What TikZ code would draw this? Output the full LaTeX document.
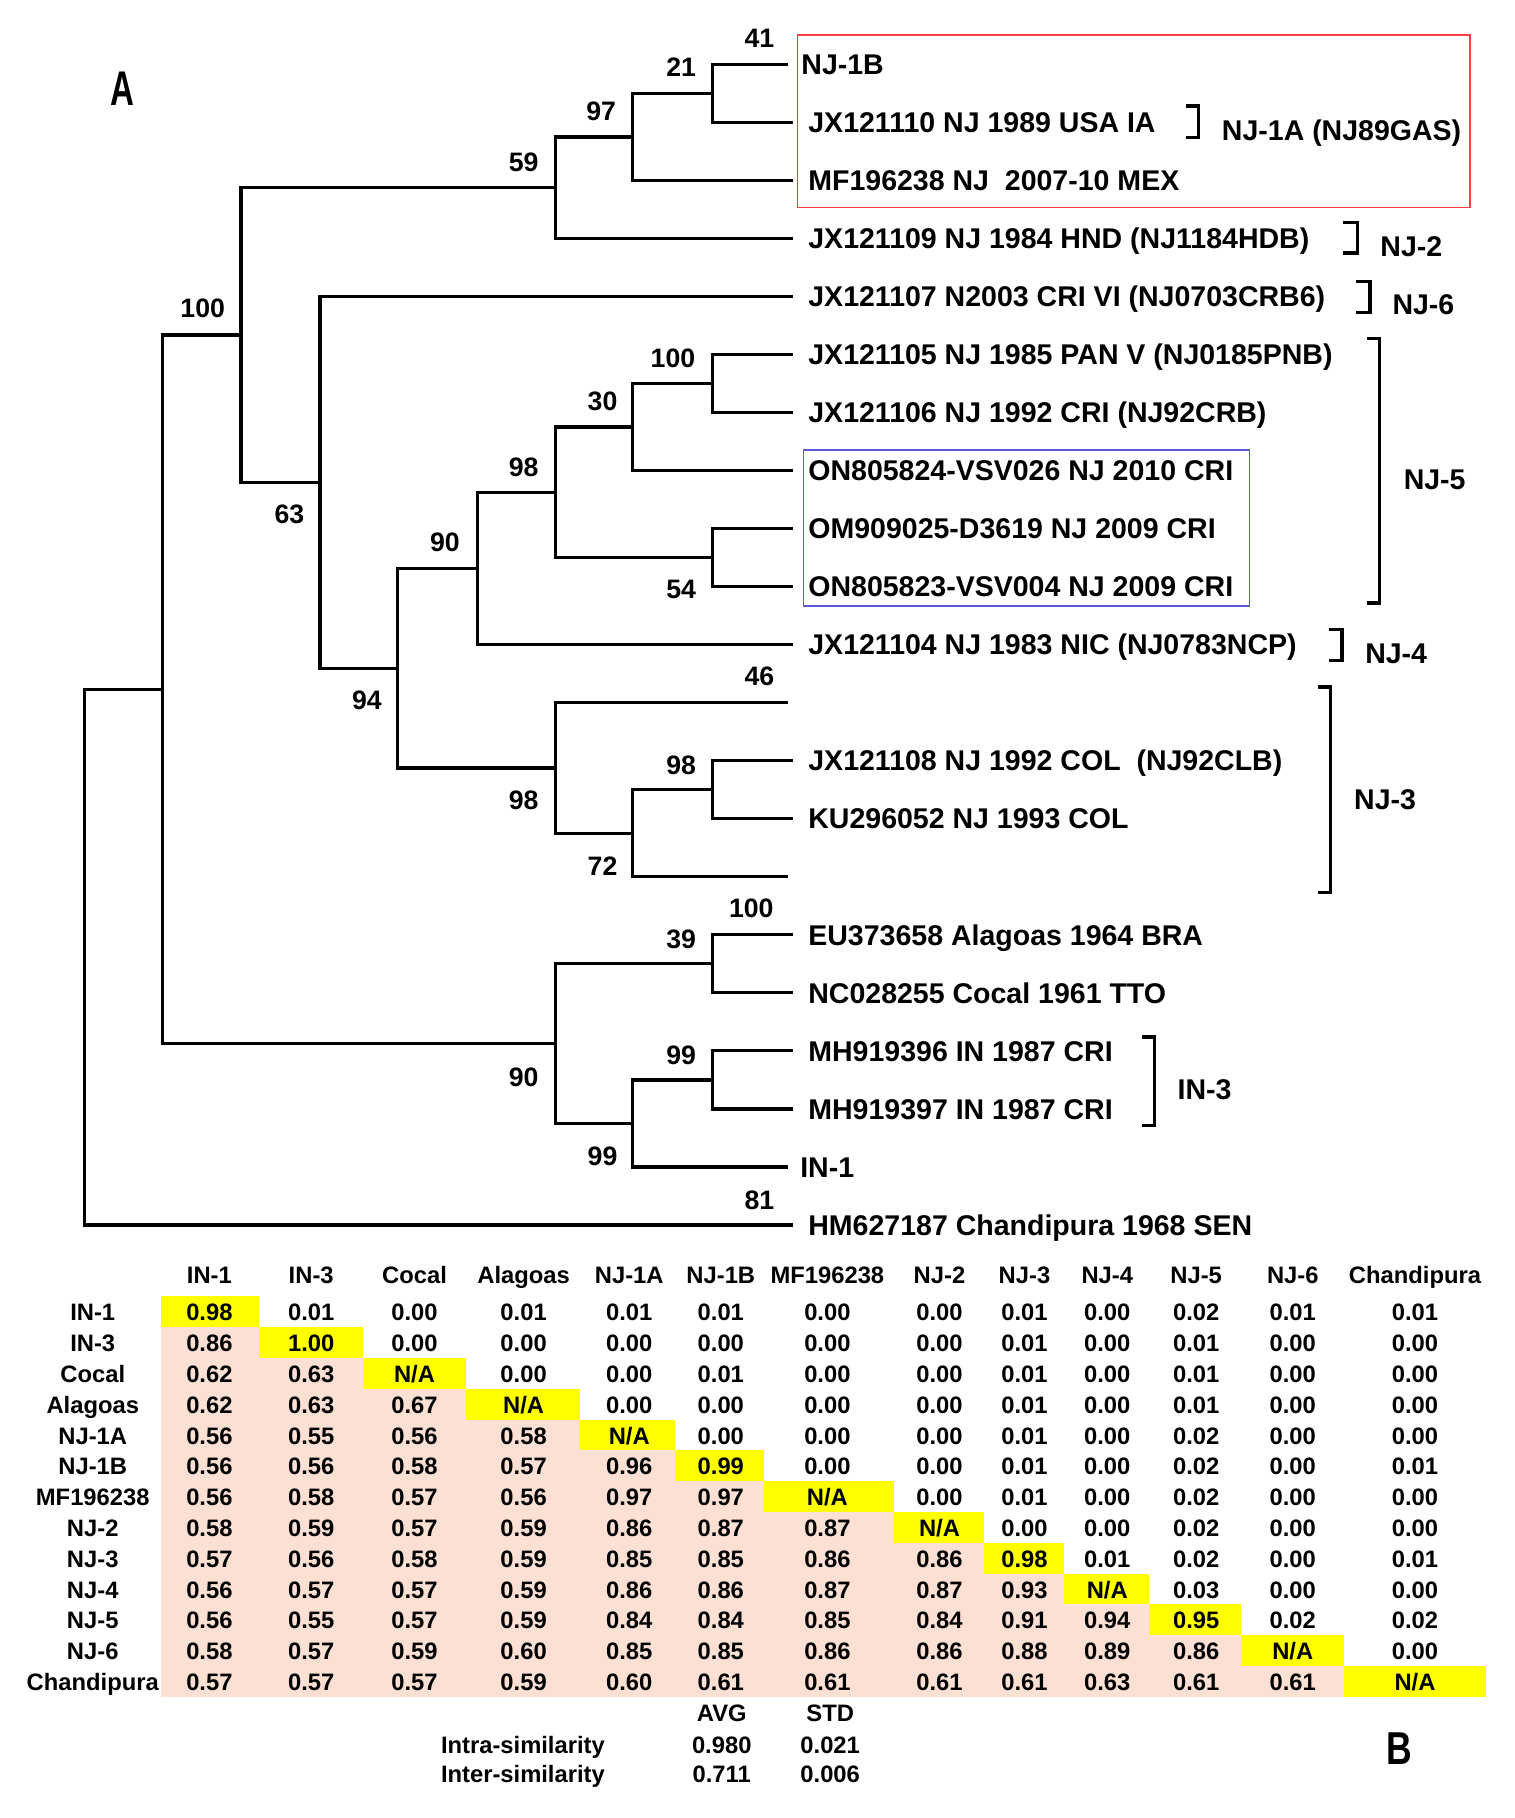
\documentclass[tikz,border=0pt]{standalone}
\usepackage{fontspec}
\setmainfont{Liberation Sans}
\usepackage{graphicx}
\definecolor{pinkc}{RGB}{252,224,212}
\definecolor{yelc}{RGB}{255,255,0}
\definecolor{redbox}{RGB}{255,60,70}
\definecolor{bluebox}{RGB}{90,90,225}
\tikzset{
 branch/.style={line width=2.8pt},
 brk/.style={line width=2.8pt},
 leaf/.style={anchor=west,inner sep=0pt,font=\fontsize{24.6}{26}\selectfont\bfseries,text height=17.6pt,text depth=0pt},
 boot/.style={inner sep=0pt,font=\fontsize{23}{25}\selectfont\bfseries,text height=16.5pt,text depth=0pt},
 grp/.style={anchor=west,inner sep=0pt,font=\fontsize{24.6}{26}\selectfont\bfseries,text height=17.6pt,text depth=0pt},
 tcell/.style={inner sep=0pt,font=\fontsize{20.5}{22}\selectfont\bfseries,text height=14.7pt,text depth=0pt},
 panel/.style={inner sep=0pt,font=\bfseries},
 hlbox/.style={line width=1.3pt},
}
\begin{document}
\begin{tikzpicture}[x=1pt,y=-1pt]
\useasboundingbox[fill=white] (0,0) rectangle (1306,1568);

% ---------- panel letters
\node[panel,font=\fontsize{42}{44}\selectfont\bfseries] (lblA) at (105.3,76.8) {\scalebox{0.68}[1]{A}};
\node[panel,font=\fontsize{39.8}{42}\selectfont\bfseries] (lblB) at (1206.8,1508.2) {\scalebox{0.77}[1]{B}};

% ---------- highlight boxes
\draw[hlbox,redbox] (687.9,30) rectangle (1268,179);
\draw[hlbox,bluebox] (693,388) rectangle (1077.7,522.7);

% ---------- leaves
\coordinate (l0) at (680,55.5);
\coordinate (l1) at (684,105.55);
\coordinate (l2) at (684,155.6);
\coordinate (l3) at (684,205.65);
\coordinate (l4) at (684,255.7);
\coordinate (l5) at (684,305.75);
\coordinate (l6) at (684,355.8);
\coordinate (l7) at (684,405.85);
\coordinate (l8) at (684,455.9);
\coordinate (l9) at (684,505.95);
\coordinate (l10) at (684,556.0);
\coordinate (l11) at (680,606.05);
\coordinate (l12) at (684,656.1);
\coordinate (l13) at (684,706.15);
\coordinate (l14) at (680,756.2);
\coordinate (l15) at (684,806.25);
\coordinate (l16) at (684,856.3);
\coordinate (l17) at (684,906.35);
\coordinate (l18) at (684,956.4);
\coordinate (l19) at (680,1006.45);
\coordinate (l20) at (684,1056.5);

\node[leaf] (t0) at (691,55.5) {NJ-1B};
\node[leaf] (t1) at (697,105.55) {JX121110 NJ 1989 USA IA};
\node[leaf] (t2) at (697,155.6) {MF196238 NJ~~2007-10 MEX};
\node[leaf] (t3) at (697,205.65) {JX121109 NJ 1984 HND (NJ1184HDB)};
\node[leaf] (t4) at (697,255.7) {JX121107 N2003 CRI VI (NJ0703CRB6)};
\node[leaf] (t5) at (697,305.75) {JX121105 NJ 1985 PAN V (NJ0185PNB)};
\node[leaf] (t6) at (697,355.8) {JX121106 NJ 1992 CRI (NJ92CRB)};
\node[leaf] (t7) at (697,405.85) {ON805824-VSV026 NJ 2010 CRI};
\node[leaf] (t8) at (697,455.9) {OM909025-D3619 NJ 2009 CRI};
\node[leaf] (t9) at (697,505.95) {ON805823-VSV004 NJ 2009 CRI};
\node[leaf] (t10) at (697,556.0) {JX121104 NJ 1983 NIC (NJ0783NCP)};
\node[leaf] (t12) at (697,656.1) {JX121108 NJ 1992 COL~~(NJ92CLB)};
\node[leaf] (t13) at (697,706.15) {KU296052 NJ 1993 COL};
\node[leaf] (t15) at (697,806.25) {EU373658 Alagoas 1964 BRA};
\node[leaf] (t16) at (697,856.3) {NC028255 Cocal 1961 TTO};
\node[leaf] (t17) at (697,906.35) {MH919396 IN 1987 CRI};
\node[leaf] (t18) at (697,956.4) {MH919397 IN 1987 CRI};
\node[leaf] (t19) at (690,1006.45) {IN-1};
\node[leaf] (t20) at (697,1056.5) {HM627187 Chandipura 1968 SEN};

% ---------- internal nodes
\coordinate (a21) at (614.7,80.55);
\coordinate (a97) at (545.7,118.1);
\coordinate (a59) at (478.8,161.9);
\coordinate (b100) at (614.7,330.8);
\coordinate (b30) at (545.7,368.3);
\coordinate (b54) at (614.7,480.9);
\coordinate (b98) at (478.8,424.6);
\coordinate (b90) at (411.9,490.3);
\coordinate (c98) at (614.7,681.1);
\coordinate (c72) at (545.7,718.7);
\coordinate (c98b) at (478.8,662.4);
\coordinate (b94) at (342.9,576.4);
\coordinate (b63) at (276,416.05);
\coordinate (t100) at (207.8,289.0);
\coordinate (d39) at (614.7,831.3);
\coordinate (d99a) at (614.7,931.4);
\coordinate (d99b) at (545.7,968.9);
\coordinate (d90) at (478.8,900.1);
\coordinate (e140) at (140,594.6);
\coordinate (root) at (73,825.5);

% ---------- branches
\foreach \p/\c in {a21/l0,a21/l1,a97/a21,a97/l2,a59/a97,a59/l3,
  t100/a59,t100/b63,b63/l4,b63/b94,b94/b90,b94/c98b,b90/b98,b90/l10,
  b98/b30,b98/b54,b30/b100,b30/l7,b100/l5,b100/l6,b54/l8,b54/l9,
  c98b/l11,c98b/c72,c72/c98,c72/l14,c98/l12,c98/l13,
  e140/t100,e140/d90,d90/d39,d90/d99b,d39/l15,d39/l16,d99b/d99a,d99b/l19,
  d99a/l17,d99a/l18,root/e140,root/l20}
  {\draw[branch] (\p) |- (\c);}

% ---------- bootstrap values
\node[boot] (bs41) at (655,33) {41};
\node[boot] (bs21) at (587.5,58) {21};
\node[boot] (bs97) at (518.5,95.5) {97};
\node[boot] (bs59) at (451.6,139.8) {59};
\node[boot] (bs100a) at (174.8,266) {100};
\node[boot] (bs63) at (249.6,443.2) {63};
\node[boot] (bs100b) at (580.4,308.6) {100};
\node[boot] (bs30) at (519.7,346) {30};
\node[boot] (bs98a) at (451.6,402.3) {98};
\node[boot] (bs90a) at (383.8,467) {90};
\node[boot] (bs54) at (587.5,508) {54};
\node[boot] (bs94) at (316.5,603.8) {94};
\node[boot] (bs46) at (655,583) {46};
\node[boot] (bs98b) at (587.5,660) {98};
\node[boot] (bs98c) at (451.6,690) {98};
\node[boot] (bs72) at (519.7,747) {72};
\node[boot] (bs100c) at (648,783) {100};
\node[boot] (bs39) at (587.5,809.8) {39};
\node[boot] (bs90b) at (451.6,928.8) {90};
\node[boot] (bs99a) at (587.5,910) {99};
\node[boot] (bs99b) at (519.7,997) {99};
\node[boot] (bs81) at (655,1035) {81};

% ---------- group brackets
\draw[brk] (1023,91.4) -- (1034,91.4) -- (1034,118.6) -- (1023,118.6);
\draw[brk] (1158.5,192) -- (1171,192) -- (1171,218.2) -- (1158.5,218.2);
\draw[brk] (1169.3,243) -- (1181.5,243) -- (1181.5,269.4) -- (1169.3,269.4);
\draw[brk] (1179,292.2) -- (1189.5,292.2) -- (1189.5,520) -- (1179,520);
\draw[brk] (1145.8,543) -- (1157.5,543) -- (1157.5,569.7) -- (1145.8,569.7);
\draw[brk] (1136.6,592.6) -- (1147.5,592.6) -- (1147.5,769.6) -- (1136.6,769.6);
\draw[brk] (985.3,894.3) -- (995.8,894.3) -- (995.8,970.7) -- (985.3,970.7);

\node[grp] (g1a) at (1053.7,112.5) {NJ-1A (NJ89GAS)};
\node[grp] (g2) at (1190.4,212) {NJ-2};
\node[grp] (g6) at (1200.8,262.5) {NJ-6};
\node[grp] (g5) at (1210.5,413.2) {NJ-5};
\node[grp] (g4) at (1177.3,563.3) {NJ-4};
\node[grp] (g3) at (1167.8,689) {NJ-3};
\node[grp] (gin3) at (1015.5,939.4) {IN-3};

% ---------- table backgrounds
\fill[pinkc] (139,1144.58) -- (224,1144.58) -- (224,1171.16) -- (314,1171.16) -- (314,1197.74) -- (403,1197.74) -- (403,1224.32) -- (501,1224.32) -- (501,1250.9) -- (583,1250.9) -- (583,1277.48) -- (660,1277.48) -- (660,1304.06) -- (772,1304.06) -- (772,1330.64) -- (850,1330.64) -- (850,1357.22) -- (919,1357.22) -- (919,1383.8) -- (992,1383.8) -- (992,1410.38) -- (1071,1410.38) -- (1071,1436.96) -- (1160,1436.96) -- (1160,1463.54) -- (139,1463.54) -- cycle;
\fill[yelc] (139,1118) rectangle (223,1144.58);
\fill[yelc] (223,1144.58) rectangle (313,1171.16);
\fill[yelc] (313,1171.16) rectangle (402,1197.74);
\fill[yelc] (402,1197.74) rectangle (500,1224.32);
\fill[yelc] (500,1224.32) rectangle (582,1250.9);
\fill[yelc] (582,1250.9) rectangle (659,1277.48);
\fill[yelc] (659,1277.48) rectangle (771,1304.06);
\fill[yelc] (771,1304.06) rectangle (849,1330.64);
\fill[yelc] (849,1330.64) rectangle (918,1357.22);
\fill[yelc] (918,1357.22) rectangle (991,1383.8);
\fill[yelc] (991,1383.8) rectangle (1070,1410.38);
\fill[yelc] (1070,1410.38) rectangle (1159,1436.96);
\fill[yelc] (1159,1436.96) rectangle (1282,1463.54);

% ---------- table text
\def\colx{{180.6,268.4,357.5,451.6,542.7,621.7,713.6,810.3,883.6,955,1031.7,1115,1220.4}}
\foreach \lab [count=\c from 0] in {IN-1,IN-3,Cocal,Alagoas,NJ-1A,NJ-1B,MF196238,NJ-2,NJ-3,NJ-4,NJ-5,NJ-6,Chandipura}{
  \pgfmathsetmacro\cx{\colx[\c]}
  \node[tcell] (h\c) at (\cx,1099.8) {\lab};
}
\foreach \lab/\vals [count=\r from 0] in {
 IN-1/{0.98,0.01,0.00,0.01,0.01,0.01,0.00,0.00,0.01,0.00,0.02,0.01,0.01},
 IN-3/{0.86,1.00,0.00,0.00,0.00,0.00,0.00,0.00,0.01,0.00,0.01,0.00,0.00},
 Cocal/{0.62,0.63,N/A,0.00,0.00,0.01,0.00,0.00,0.01,0.00,0.01,0.00,0.00},
 Alagoas/{0.62,0.63,0.67,N/A,0.00,0.00,0.00,0.00,0.01,0.00,0.01,0.00,0.00},
 NJ-1A/{0.56,0.55,0.56,0.58,N/A,0.00,0.00,0.00,0.01,0.00,0.02,0.00,0.00},
 NJ-1B/{0.56,0.56,0.58,0.57,0.96,0.99,0.00,0.00,0.01,0.00,0.02,0.00,0.01},
 MF196238/{0.56,0.58,0.57,0.56,0.97,0.97,N/A,0.00,0.01,0.00,0.02,0.00,0.00},
 NJ-2/{0.58,0.59,0.57,0.59,0.86,0.87,0.87,N/A,0.00,0.00,0.02,0.00,0.00},
 NJ-3/{0.57,0.56,0.58,0.59,0.85,0.85,0.86,0.86,0.98,0.01,0.02,0.00,0.01},
 NJ-4/{0.56,0.57,0.57,0.59,0.86,0.86,0.87,0.87,0.93,N/A,0.03,0.00,0.00},
 NJ-5/{0.56,0.55,0.57,0.59,0.84,0.84,0.85,0.84,0.91,0.94,0.95,0.02,0.02},
 NJ-6/{0.58,0.57,0.59,0.60,0.85,0.85,0.86,0.86,0.88,0.89,0.86,N/A,0.00},
 Chandipura/{0.57,0.57,0.57,0.59,0.60,0.61,0.61,0.61,0.61,0.63,0.61,0.61,N/A}}{
  \pgfmathsetmacro\ry{1131.8+26.58*\r}
  \node[tcell] (r\r) at (80,\ry) {\lab};
  \foreach \v [count=\c from 0] in \vals {
    \pgfmathsetmacro\cx{\colx[\c]}
    \node[tcell] (v\r-\c) at (\cx,\ry) {\v};
  }
}

% ---------- summary statistics
\node[tcell] (avg) at (622.5,1477.6) {AVG};
\node[tcell] (std) at (716,1477.6) {STD};
\node[tcell] (intra) at (451,1505) {Intra-similarity};
\node[tcell] (intraavg) at (622.5,1505) {0.980};
\node[tcell] (intrastd) at (716,1505) {0.021};
\node[tcell] (inter) at (451,1530) {Inter-similarity};
\node[tcell] (interavg) at (622.5,1530) {0.711};
\node[tcell] (interstd) at (716,1530) {0.006};
\end{tikzpicture}
\end{document}
